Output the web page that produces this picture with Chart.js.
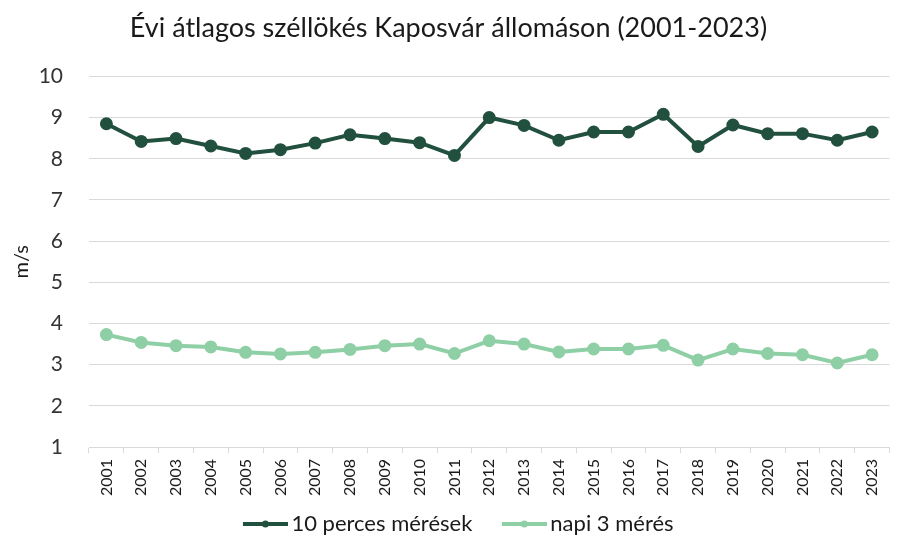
<!DOCTYPE html>
<html>
<head>
<meta charset="utf-8">
<script src="https://cdn.jsdelivr.net/npm/chart.js@4.4.0/dist/chart.umd.min.js"></script>
<style>
  html, body { margin: 0; padding: 0; background: #fff; }
  #wrap { width: 898px; height: 540px; }
</style>
</head>
<body>
<div id="wrap"><canvas id="myChart" width="898" height="540"></canvas></div>
<script>
// ***** DATA *****
const years = ['2001', '2002', '2003', '2004', '2005', '2006', '2007', '2008', '2009', '2010', '2011', '2012',
  '2013', '2014', '2015', '2016', '2017', '2018', '2019', '2020', '2021', '2022', '2023'];
const tenMinute = [8.85, 8.42, 8.49, 8.31, 8.13, 8.22, 8.38, 8.58, 8.49, 8.39, 8.08, 9.0,
  8.81, 8.45, 8.65, 8.65, 9.08, 8.30, 8.82, 8.61, 8.61, 8.45, 8.65];
const threeDaily = [3.73, 3.54, 3.46, 3.43, 3.30, 3.26, 3.30, 3.37, 3.46, 3.50, 3.27, 3.58,
  3.50, 3.31, 3.38, 3.38, 3.47, 3.11, 3.38, 3.27, 3.24, 3.04, 3.24];
const seriesNames = ['10 perces mérések', 'napi 3 mérés'];
const yTicks = [1, 2, 3, 4, 5, 6, 7, 8, 9, 10];

const darkGreen = '#22503f';
const lightGreen = '#8fcfa6';
const fontName = 'Lato, "Liberation Sans", sans-serif';

// legend marker: short line with a dot, drawn at the right end of a wider canvas
// so the gap to the text is small and the gap between items is wide
function legendMarker(color){
  let c = document.createElement('canvas');
  c.width = 72;
  c.height = 12;
  let g = c.getContext('2d');
  g.strokeStyle = color;
  g.lineWidth = 4;
  g.beginPath();
  g.moveTo(27, 6);
  g.lineTo(72, 6);
  g.stroke();
  g.fillStyle = color;
  g.beginPath();
  g.arc(49.5, 6, 3.5, 0, Math.PI * 2);
  g.fill();
  return c;
}

const ctx = document.getElementById('myChart').getContext('2d');

new Chart(ctx, {
  type: 'line',
  data: {
    labels: years,
    datasets: [{
      label: seriesNames[0],
      data: tenMinute,
      borderColor: darkGreen,
      backgroundColor: darkGreen,
      borderWidth: 4,
      pointRadius: 4.5,
      pointHoverRadius: 4.5,
      tension: 0
    },
    {
      label: seriesNames[1],
      data: threeDaily,
      borderColor: lightGreen,
      backgroundColor: lightGreen,
      borderWidth: 4,
      pointRadius: 4.5,
      pointHoverRadius: 4.5,
      tension: 0
    }]
  },
  options: {
    responsive: false,
    animation: false,
    layout: { padding: { left: 0, right: 1, top: 0, bottom: -5 } },
    plugins: {
      title: {
        display: true,
        text: 'Évi átlagos széllökés Kaposvár állomáson (2001-2023)',
        color: '#1a1a1a',
        font: { family: fontName, size: 27, weight: 'normal' },
        padding: { top: 12, bottom: 32 }
      },
      legend: {
        position: 'bottom',
        labels: {
          usePointStyle: true,
          pointStyleWidth: 57,
          boxHeight: 12,
          padding: 10,
          color: '#1a1a1a',
          font: { family: fontName, size: 22 },
          generateLabels: function(chart){
            let items = Chart.defaults.plugins.legend.labels.generateLabels(chart);
            items.forEach(function(item, i){
              item.pointStyle = legendMarker(chart.data.datasets[i].borderColor);
            });
            return items;
          }
        }
      },
      tooltip: { enabled: false }
    },
    scales: {
      x: {
        offset: true,
        afterFit: function(scale){ scale.height = 56; },
        grid: { offset: true, drawOnChartArea: false, drawTicks: true, tickLength: 6, color: '#d9d9d9' },
        border: { color: '#d9d9d9', width: 1 },
        ticks: {
          minRotation: 90,
          maxRotation: 90,
          autoSkip: false,
          padding: 6,
          color: '#1a1a1a',
          font: { family: fontName, size: 16 }
        }
      },
      y: {
        min: 1,
        max: 10,
        afterFit: function(scale){ scale.width = 89; },
        afterBuildTicks: function(scale){ scale.ticks = yTicks.map(function(v){ return { value: v }; }); },
        grid: { drawTicks: false, color: '#d9d9d9' },
        border: { display: false },
        title: {
          display: true,
          text: 'm/s',
          color: '#1a1a1a',
          font: { family: fontName, size: 20 },
          padding: { top: 10, bottom: 0 }
        },
        ticks: {
          padding: 26,
          color: '#333333',
          font: { family: fontName, size: 21 }
        }
      }
    }
  }
});
</script>
</body>
</html>
